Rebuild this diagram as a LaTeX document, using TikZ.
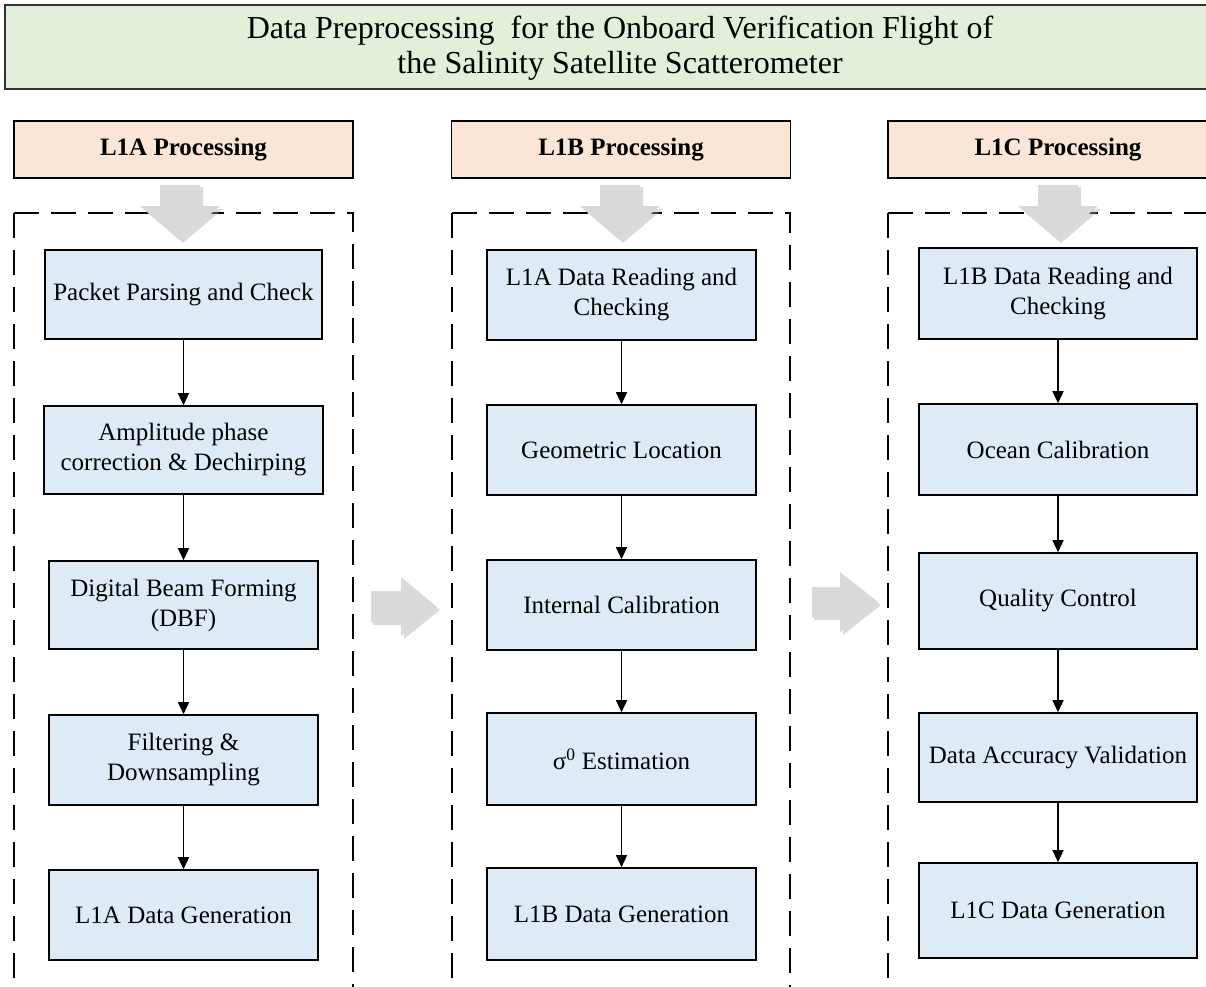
\documentclass[tikz,border=0pt]{standalone}
\usepackage{fontspec}
\setmainfont{Liberation Serif}
\usetikzlibrary{arrows.meta}
\definecolor{titlegreen}{HTML}{E2EFDA}
\definecolor{headpeach}{HTML}{FBE5D6}
\definecolor{boxblue}{HTML}{DEEBF7}
\definecolor{arrowgray}{HTML}{D9D9D9}
\definecolor{shadowgray}{HTML}{A6A6A6}
\begin{document}
\begin{tikzpicture}[x=1pt,y=-1pt,
  procbox/.style={draw=black, line width=1.6pt, fill=boxblue, align=center,
    font=\fontsize{25}{30}\selectfont, inner sep=0pt},
  headbox/.style={draw=black, line width=1.8pt, fill=headpeach,
    font=\bfseries\fontsize{25}{28}\selectfont, inner sep=0pt},
  frame/.style={draw=black, line width=2pt, dash pattern=on 25pt off 12pt},
  flow/.style={line width=1.3pt, -{Triangle[length=12pt,width=11pt]}},
  bigarrow/.style={fill=arrowgray},
  bigshadow/.style={fill=shadowgray, opacity=0.4}]
\useasboundingbox (0,0) rectangle (1206,986);
\clip (0,0) rectangle (1206,986);

% title
\draw[line width=2pt, draw=black!80, fill=titlegreen] (5,5) rectangle (1240,89);
\node[font=\fontsize{32}{35}\selectfont, align=center] (title) at (620,48)
  {Data Preprocessing\ \ for the Onboard Verification Flight of\\the Salinity Satellite Scatterometer};

% headers
\node[headbox, minimum width=339pt, minimum height=57pt] (hA) at (183.5,149.5) {L1A Processing};
\node[headbox, minimum width=339pt, minimum height=57pt] (hB) at (621,149.5) {L1B Processing};
\node[headbox, minimum width=340pt, minimum height=57pt] (hC) at (1058,149.5) {L1C Processing};

% dashed frames
\draw[frame] (14,213) -- (353,213) -- (353,1010);
\draw[frame] (14,213) -- (14,1010);
\draw[frame] (452,213) -- (790,213) -- (790,1010);
\draw[frame] (452,213) -- (452,1010);
\draw[frame] (888,213) -- (1240,213);
\draw[frame] (888,213) -- (888,1010);

% gray down arrows
\foreach \cx in {180,620,1058} {
  \fill[bigshadow] ({\cx-18},187) -- ({\cx+23},187) -- ({\cx+23},209) -- ({\cx+43},209)
     -- ({\cx+3},243) -- ({\cx-37},209) -- ({\cx-18},209) -- cycle;
  \fill[bigarrow] ({\cx-20},185) -- ({\cx+20},185) -- ({\cx+20},206) -- ({\cx+40},206)
     -- (\cx,240) -- ({\cx-40},206) -- ({\cx-20},206) -- cycle;
}

% gray right arrows
\fill[bigshadow] (373,594) -- (404,594) -- (404,580) -- (440,610) -- (404,639) -- (404,625) -- (373,625) -- cycle;
\fill[bigarrow] (371,591) -- (401,591) -- (401,577) -- (437,607) -- (401,636) -- (401,622) -- (371,622) -- cycle;
\fill[bigshadow] (814,590) -- (843,590) -- (843,575) -- (881,605) -- (843,635) -- (843,620) -- (814,620) -- cycle;
\fill[bigarrow] (812,587) -- (840,587) -- (840,572) -- (878,602) -- (840,632) -- (840,617) -- (812,617) -- cycle;

% L1A column
\node[procbox, minimum width=277pt, minimum height=89pt] (a1) at (183.5,294.5) {Packet Parsing and Check};
\node[procbox, minimum width=279pt, minimum height=88pt] (a2) at (183.5,450) {Amplitude phase\\correction \& Dechirping};
\node[procbox, minimum width=269pt, minimum height=88pt] (a3) at (183.5,605) {Digital Beam Forming\\(DBF)};
\node[procbox, minimum width=269pt, minimum height=90pt] (a4) at (183.5,760) {Filtering \&\\Downsampling};
\node[procbox, minimum width=269pt, minimum height=90pt] (a5) at (183.5,915) {L1A Data Generation};

% L1B column
\node[procbox, minimum width=269pt, minimum height=90pt] (b1) at (621.5,295) {L1A Data Reading and\\Checking};
\node[procbox, minimum width=269pt, minimum height=90pt] (b2) at (621.5,450) {Geometric Location};
\node[procbox, minimum width=269pt, minimum height=90pt] (b3) at (621.5,605) {Internal Calibration};
\node[procbox, minimum width=269pt, minimum height=92pt] (b4) at (621.5,759) {σ\textsuperscript{0} Estimation};
\node[procbox, minimum width=269pt, minimum height=92pt] (b5) at (621.5,914) {L1B Data Generation};

% L1C column
\node[procbox, minimum width=278pt, minimum height=91pt] (c1) at (1058,293.5) {L1B Data Reading and\\Checking};
\node[procbox, minimum width=278pt, minimum height=91pt] (c2) at (1058,449.5) {Ocean Calibration};
\node[procbox, minimum width=278pt, minimum height=96pt] (c3) at (1058,601) {Quality Control};
\node[procbox, minimum width=278pt, minimum height=89pt] (c4) at (1058,757.5) {Data Accuracy Validation};
\node[procbox, minimum width=278pt, minimum height=95pt] (c5) at (1058,910.5) {L1C Data Generation};

% connectors
\foreach \p/\q in {a1/a2,a2/a3,a3/a4,a4/a5,b1/b2,b2/b3,b3/b4,b4/b5,c1/c2,c2/c3,c3/c4,c4/c5}
  \draw[flow] (\p) -- (\q);
\end{tikzpicture}
\end{document}
